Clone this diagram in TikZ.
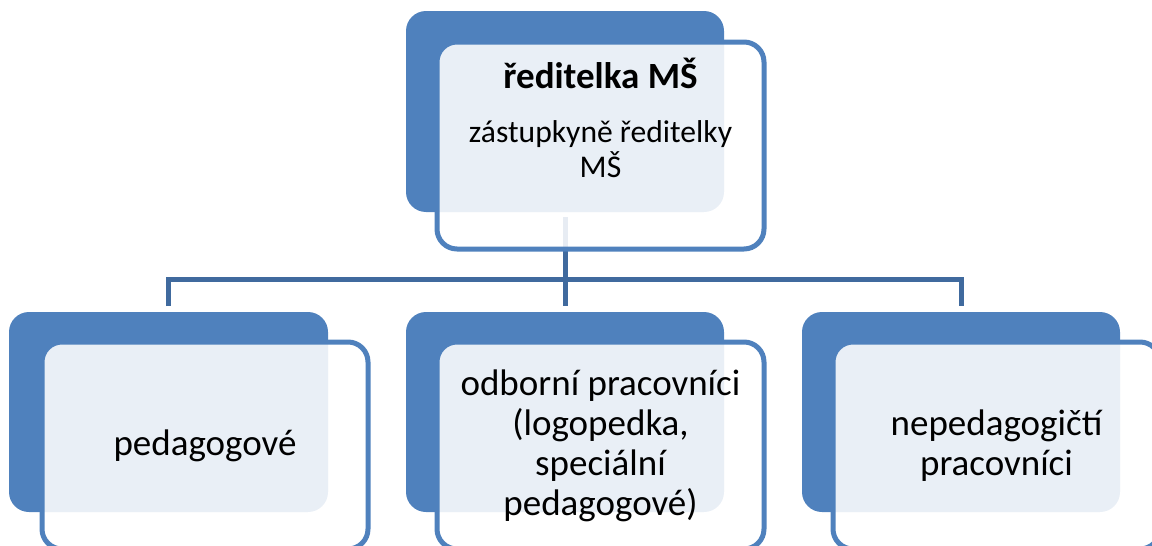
\documentclass[tikz,border=0pt]{standalone}
\usepackage{fontspec}
\setmainfont{Carlito}
\definecolor{boxblue}{RGB}{79,129,189}
\definecolor{linkblue}{RGB}{64,106,158}
\tikzset{
  backbox/.style={fill=boxblue, draw=none, rounded corners=20pt},
  frontbox/.style={fill=white, fill opacity=0.88, draw=boxblue, draw opacity=1, line width=5pt, rounded corners=20pt},
  link/.style={draw=linkblue, line width=5pt},
  bigtxt/.style={anchor=base, inner sep=0pt, font=\fontsize{37}{40}\selectfont},
  titletxt/.style={anchor=base, inner sep=0pt, font=\fontsize{37}{40}\selectfont\bfseries},
  subtxt/.style={anchor=base, inner sep=0pt, font=\fontsize{31.6}{35}\selectfont},
}
\begin{document}
\begin{tikzpicture}[x=1pt, y=-1pt]
\useasboundingbox (0,0) rectangle (1152,546);
\clip (0,0) rectangle (1152,546);
% back boxes
\path[backbox] (406,11) rectangle (724,212);
\path[backbox] (9,312) rectangle (328,512);
\path[backbox] (406,312) rectangle (724,512);
\path[backbox] (802,312) rectangle (1120,512);
% connector anchors
\coordinate (top) at (565,217);
\coordinate (bus) at (565,279);
\coordinate (l) at (168.5,306);
\coordinate (m) at (565,306);
\coordinate (r) at (961,306);
\draw[link] (top) -- (bus);
\draw[link] (l) |- (bus) -| (r);
\draw[link] (bus) -- (m);
% front boxes
\path[frontbox] (437,42) rectangle (764,249);
\path[frontbox] (42,342) rectangle (368,549);
\path[frontbox] (437,342) rectangle (764,549);
\path[frontbox] (833,342) rectangle (1160,549);
% texts
\node[titletxt] (t1) at (600.5,88) {ředitelka MŠ};
\node[subtxt] (t2) at (600.5,142) {zástupkyně ředitelky};
\node[subtxt] (t3) at (600.5,177) {MŠ};
\node[bigtxt] (p1) at (205,455) {pedagogové};
\node[bigtxt] (o1) at (600.5,395) {odborní pracovníci};
\node[bigtxt] (o2) at (600.5,435) {(logopedka,};
\node[bigtxt] (o3) at (600.5,475) {speciální};
\node[bigtxt] (o4) at (600.5,515) {pedagogové)};
\node[bigtxt] (n1) at (996.5,435) {nepedagogičtí};
\node[bigtxt] (n2) at (996.5,475) {pracovníci};
\end{tikzpicture}
\end{document}
